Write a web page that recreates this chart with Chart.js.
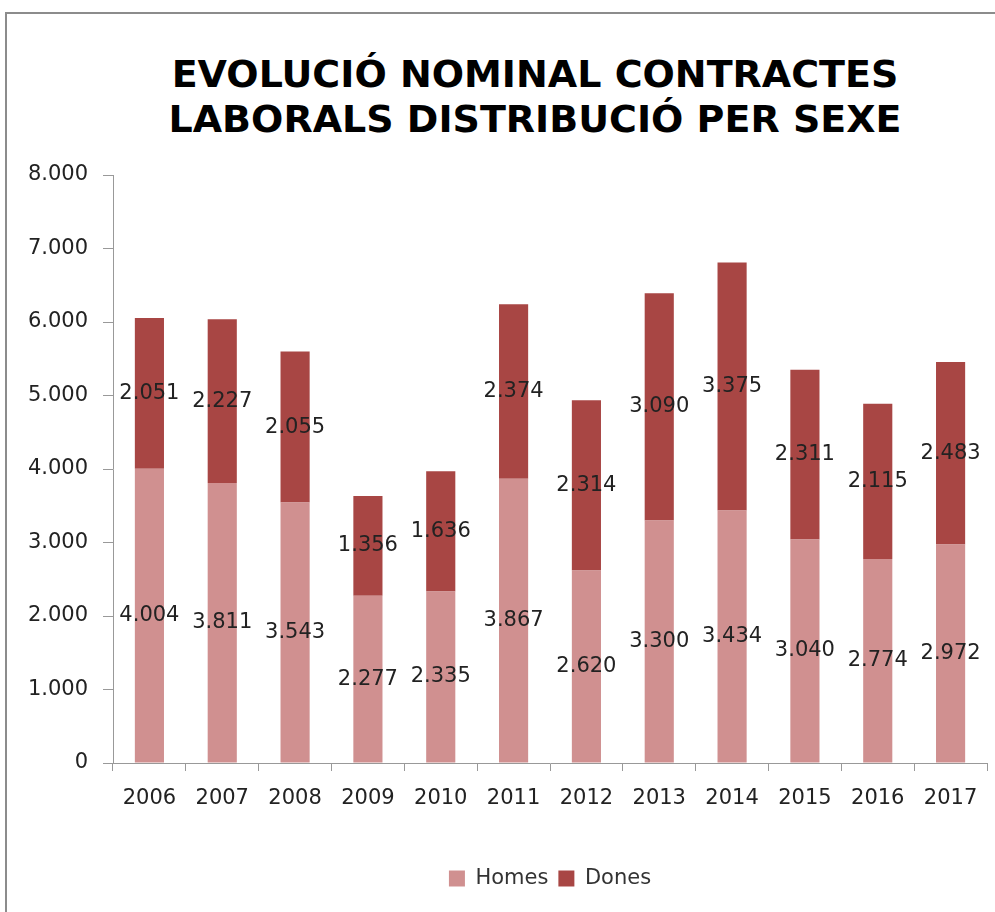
<!DOCTYPE html>
<html lang="ca">
<head>
  <meta charset="UTF-8" />
  <title>Evolució nominal contractes laborals</title>
  <script src="https://cdn.jsdelivr.net/npm/chart.js"></script>
  <style>
    html, body {
      margin: 0;
      padding: 0;
      background: #fff;
    }
    #wrap {
      position: relative;
      width: 995px;
      height: 912px;
    }
    #frame {
      position: absolute;
      left: 5px;
      top: 12px;
      right: 0;
      bottom: 0;
      border-left: 2px solid #8c8c8c;
      border-top: 2px solid #8c8c8c;
    }
    h1 {
      position: absolute;
      left: 0;
      top: 52px;
      width: 1070px;
      margin: 0;
      text-align: center;
      font-family: "DejaVu Sans", sans-serif;
      font-weight: bold;
      font-size: 38px;
      line-height: 45px;
      color: #000;
    }
    canvas {
      position: absolute;
      left: 0;
      top: 0;
    }
  </style>
</head>
<body>
  <div id="wrap">
    <div id="frame"></div>
    <h1>EVOLUCIÓ NOMINAL CONTRACTES<br>LABORALS DISTRIBUCIÓ PER SEXE</h1>
    <canvas id="chart" width="995" height="912"></canvas>
  </div>

  <script>
    const years = ['2006', '2007', '2008', '2009', '2010', '2011', '2012', '2013', '2014', '2015', '2016', '2017'];
    const homes = [4004, 3811, 3543, 2277, 2335, 3867, 2620, 3300, 3434, 3040, 2774, 2972];
    const dones = [2051, 2227, 2055, 1356, 1636, 2374, 2314, 3090, 3375, 2311, 2115, 2483];
    const yTicks = [0, 1000, 2000, 3000, 4000, 5000, 6000, 7000, 8000];

    const FONT = '"DejaVu Sans", Verdana, sans-serif';

    // 4004 -> "4.004"
    function fmt(v) {
      return String(v).replace(/\B(?=(\d{3})+(?!\d))/g, '.');
    }

    // etiquetes al mig de cada segment
    const labelsPlugin = {
      id: 'segmentLabels',
      afterDatasetsDraw(chart) {
        const ctx = chart.ctx;
        ctx.save();
        ctx.font = '21px ' + FONT;
        ctx.fillStyle = '#222';
        ctx.textAlign = 'center';
        ctx.textBaseline = 'middle';
        chart.data.datasets.forEach((ds, i) => {
          chart.getDatasetMeta(i).data.forEach((bar, j) => {
            const y = (bar.y + bar.base) / 2;
            ctx.fillText(fmt(ds.data[j]), bar.x, y);
          });
        });
        ctx.restore();
      }
    };

    new Chart(document.getElementById('chart'), {
      type: 'bar',
      data: {
        labels: years,
        datasets: [
          { label: 'Homes', data: homes, backgroundColor: '#d09090' },
          { label: 'Dones', data: dones, backgroundColor: '#a84644' }
        ]
      },
      options: {
        responsive: false,
        animation: false,
        layout: { padding: { top: 175, right: 8, bottom: 13, left: 0 } },
        datasets: { bar: { categoryPercentage: 1, barPercentage: 0.4 } },
        plugins: {
          title: { display: false },
          tooltip: { enabled: false },
          legend: {
            position: 'bottom',
            fullSize: false,
            labels: {
              boxWidth: 16,
              boxHeight: 16,
              padding: 10,
              color: '#333',
              font: { family: FONT, size: 21 }
            }
          }
        },
        scales: {
          x: {
            stacked: true,
            grid: { drawOnChartArea: false, tickLength: 8, color: '#999' },
            border: { color: '#999', width: 1 },
            ticks: { color: '#222', padding: 15, font: { family: FONT, size: 21 } },
            afterFit(scale) { scale.height = 95; }
          },
          y: {
            stacked: true,
            min: 0,
            max: 8000,
            afterBuildTicks(scale) { scale.ticks = yTicks.map(v => ({ value: v })); },
            grid: { drawOnChartArea: false, tickLength: 10, color: '#999' },
            border: { color: '#999', width: 1 },
            ticks: {
              color: '#222',
              padding: 15,
              font: { family: FONT, size: 21 },
              callback: v => fmt(v)
            },
            afterFit(scale) { scale.width = 113; }
          }
        }
      },
      plugins: [labelsPlugin]
    });
  </script>
</body>
</html>
